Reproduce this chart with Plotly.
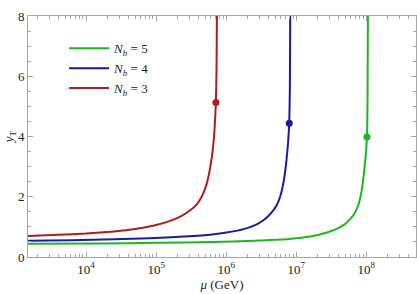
import plotly.graph_objects as go

# Data (mu in GeV, y_T values)
mu_nb5 = [1.48e3, 1.585e4, 1.0e5, 6.31e5, 2.512e6, 7.943e6, 1.585e7, 2.818e7, 3.981e7,
          5.012e7, 6.026e7, 6.918e7, 7.762e7, 8.511e7, 9.120e7, 9.661e7, 1.0233e8,
          1.0423e8, 1.0544e8, 1.0593e8]
y_nb5 = [0.44, 0.45, 0.47, 0.50, 0.54, 0.60, 0.68, 0.82, 0.96, 1.10, 1.28, 1.48, 1.75,
         2.15, 2.65, 3.2, 3.98, 5.2, 8.0, 9.0]

mu_nb4 = [1.48e3, 6.31e3, 2.512e4, 7.943e4, 2.512e5, 6.31e5, 1.259e6, 1.995e6, 2.818e6,
          3.548e6, 4.467e6, 5.248e6, 5.888e6, 6.607e6, 7.244e6, 7.674e6, 7.943e6,
          8.110e6, 8.204e6, 8.241e6]
y_nb4 = [0.54, 0.56, 0.59, 0.62, 0.68, 0.75, 0.85, 0.96, 1.10, 1.25, 1.48, 1.72, 2.0,
         2.5, 3.2, 3.85, 4.44, 5.6, 8.0, 9.0]

mu_nb3 = [1.48e3, 3.98e3, 1.0e4, 2.512e4, 5.012e4, 1.0e5, 1.585e5, 2.239e5, 3.062e5,
          3.802e5, 4.467e5, 5.248e5, 5.888e5, 6.457e5, 6.839e5, 7.129e5, 7.278e5,
          7.362e5, 7.396e5]
y_nb3 = [0.70, 0.74, 0.78, 0.85, 0.93, 1.06, 1.20, 1.35, 1.55, 1.75, 2.0, 2.42, 2.95,
         3.6, 4.3, 5.13, 6.3, 8.0, 9.0]

dot_mu = [1.0233e8, 7.943e6, 7.129e5]
dot_y = [3.98, 4.44, 5.13]

labels = ["<i>N</i><sub><i>b</i></sub> = 5", "<i>N</i><sub><i>b</i></sub> = 4",
          "<i>N</i><sub><i>b</i></sub> = 3"]
colors = ["#1cb81c", "#1a1aa8", "#b01c1c"]

x_tickvals = [1e4, 1e5, 1e6, 1e7, 1e8]
x_ticktext = ["10<sup>4</sup>", "10<sup>5</sup>", "10<sup>6</sup>", "10<sup>7</sup>", "10<sup>8</sup>"]
y_tickvals = [0, 2, 4, 6, 8]

x_minor = [m * 10 ** e for e in range(3, 9) for m in range(2, 10)]

FONT = "Liberation Serif"

fig = go.Figure()
series = [(mu_nb5, y_nb5), (mu_nb4, y_nb4), (mu_nb3, y_nb3)]
for (xs, ys), lab, col in zip(series, labels, colors):
    fig.add_trace(go.Scatter(x=xs, y=ys, mode="lines", name=lab,
                             line=dict(color=col, width=2, shape="spline", smoothing=0.5)))
for xm, ym, col in zip(dot_mu, dot_y, colors):
    fig.add_trace(go.Scatter(x=[xm], y=[ym], mode="markers", showlegend=False,
                             marker=dict(color=col, size=7)))

axis_common = dict(showline=True, linecolor="#a6a6a6", linewidth=1, mirror="ticks",
                   ticks="inside", tickcolor="#a6a6a6", ticklen=5, showgrid=False,
                   zeroline=False, tickfont=dict(family=FONT, size=13, color="#222"))

fig.update_xaxes(type="log", range=[3.17, 8.71], tickvals=x_tickvals, ticktext=x_ticktext,
                 minor=dict(ticks="inside", ticklen=3, tickcolor="#a6a6a6", tickvals=x_minor),
                 title=dict(text="<i>μ</i> (GeV)", font=dict(family=FONT, size=13, color="#222"),
                            standoff=4),
                 **axis_common)
fig.update_yaxes(range=[0, 8], tickvals=y_tickvals,
                 minor=dict(ticks="inside", ticklen=3, tickcolor="#a6a6a6", dtick=0.5),
                 title=dict(text="<i>y</i><sub>T</sub>", font=dict(family=FONT, size=13, color="#222"),
                            standoff=0),
                 **axis_common)

fig.update_layout(width=417, height=294, margin=dict(l=28, r=1, t=16, b=37),
                  plot_bgcolor="white", paper_bgcolor="white",
                  font=dict(family=FONT, size=13, color="#222"),
                  legend=dict(x=0.093, y=0.928, xanchor="left", yanchor="top",
                              bgcolor="rgba(0,0,0,0)", font=dict(family=FONT, size=13),
                              itemwidth=40))

fig.write_html("out.html", config={"displayModeBar": False},
               post_script="document.body.style.margin='0px';")
